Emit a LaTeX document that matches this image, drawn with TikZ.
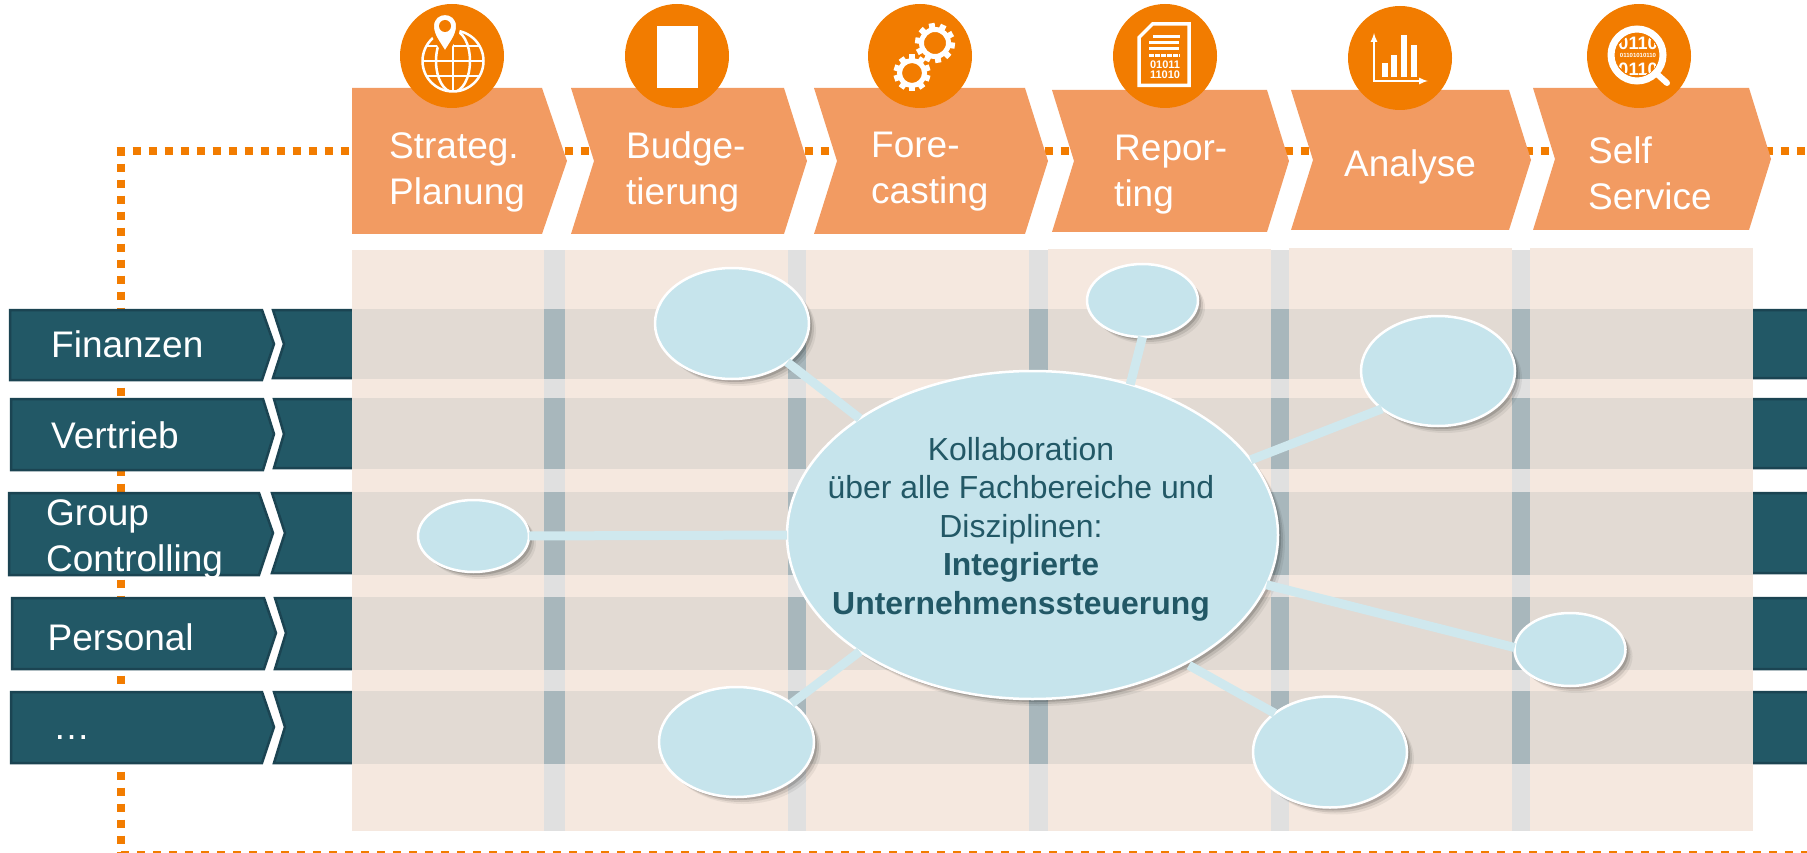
\documentclass[tikz,border=0pt]{standalone}
\usepackage{fontspec}
\setmainfont{Liberation Sans}
\usetikzlibrary{shapes.geometric, shadows}

\definecolor{iconorange}{HTML}{F27C00}
\definecolor{phaseorange}{HTML}{F29B62}
\definecolor{rowteal}{HTML}{225866}
\definecolor{rowedge}{HTML}{1B4452}
\definecolor{columnbeige}{HTML}{F5E8DF}
\definecolor{bandbeige}{HTML}{E2DAD3}
\definecolor{gapgrey}{HTML}{E0E0E0}
\definecolor{gapdark}{HTML}{A8B7BC}
\definecolor{blobblue}{HTML}{C6E4EC}
\definecolor{linkblue}{HTML}{CFE8EE}

\begin{document}
\begin{tikzpicture}[> = latex, x = 1 pt, y = -1 pt,
	dotline/.style = {iconorange, line width = 8, dash pattern = on 8 pt off 8 pt},
	phasebox/.style = {fill = phaseorange},
	rowbox/.style = {fill = rowteal, draw = rowedge, line width = 2.5},
	phaselabel/.style = {anchor = base west, inner sep = 0, align = left, white, font = \fontsize{37}{45}\selectfont},
	rowlabel/.style = {anchor = base west, inner sep = 0, align = left, white, font = \fontsize{37}{45}\selectfont},
	iconcircle/.style = {circle, fill = iconorange, minimum size = 104, inner sep = 0},
	icontext/.style = {anchor = base, inner sep = 0, white, font = \bfseries\fontsize{11}{11}\selectfont},
	blob/.style = {ellipse, fill = blobblue, draw = white, line width = 2.5, inner sep = 0, outer sep = 0,
		drop shadow = {shadow xshift = 7 pt, shadow yshift = -7 pt, opacity = 0.06, fill = black},
		drop shadow = {shadow xshift = 5 pt, shadow yshift = -5 pt, opacity = 0.1, fill = black},
		drop shadow = {shadow xshift = 3 pt, shadow yshift = -3 pt, opacity = 0.15, fill = black}},
	link/.style = {linkblue, line width = 9}]

	\useasboundingbox (0, 0) rectangle (1807, 853);
	\clip (0, 0) rectangle (1807, 853);

	% Dotted frame

	\coordinate (frametop) at (116.7, 151);
	\coordinate (frameright) at (1807, 151);
	\coordinate (frameleft) at (121, 147.7);
	\coordinate (framecorner) at (121, 855);
	\coordinate (frameend) at (1807, 855);

	\draw [dotline] (frametop) -- (frameright);
	\draw [dotline] (frameleft) -- (framecorner);
	\draw [dotline] (framecorner) -- (frameend);

	% Rows

	\draw [rowbox] (10, 310) -- (262, 310) -- (274, 344) -- (262, 380) -- (10, 380) -- cycle;
	\draw [rowbox] (273, 310) -- (1815, 310) -- (1815, 378) -- (273, 378) -- (284, 344) -- cycle;

	\draw [rowbox] (11, 399) -- (263, 399) -- (274, 434) -- (263, 470) -- (11, 470) -- cycle;
	\draw [rowbox] (274, 399) -- (1815, 399) -- (1815, 468) -- (274, 468) -- (284, 434) -- cycle;

	\draw [rowbox] (9, 493) -- (259, 493) -- (273, 533) -- (259, 575) -- (9, 575) -- cycle;
	\draw [rowbox] (272, 493) -- (1815, 493) -- (1815, 573) -- (272, 573) -- (285, 533) -- cycle;

	\draw [rowbox] (12, 598) -- (264, 598) -- (276, 633) -- (264, 669) -- (12, 669) -- cycle;
	\draw [rowbox] (275, 598) -- (1815, 598) -- (1815, 669) -- (275, 669) -- (286, 633) -- cycle;

	\draw [rowbox] (11, 692) -- (262, 692) -- (274, 727) -- (262, 763) -- (11, 763) -- cycle;
	\draw [rowbox] (274, 692) -- (1815, 692) -- (1815, 763) -- (274, 763) -- (285, 727) -- cycle;

	\node [rowlabel] (finanzen) at (51, 357) {Finanzen};
	\node [rowlabel] (vertrieb) at (51, 448) {Vertrieb};
	\node [rowlabel] (group) at (46, 525.5) {Group};
	\node [rowlabel] (controlling) at (46, 571) {Controlling};
	\node [rowlabel] (personal) at (47.5, 650) {Personal};
	\node [rowlabel] (more) at (53, 739) {…};

	% Columns and bands

	\foreach \xa / \xb / \ya in {352/544/250, 565/788/250, 806/1029/250, 1048/1271/249, 1289/1512/248, 1530/1753/248}
		\fill [columnbeige] (\xa, \ya) rectangle (\xb, 831);

	\foreach \xa / \xb in {544/565, 788/806, 1029/1048, 1271/1289, 1512/1530}
		\fill [gapgrey] (\xa, 250) rectangle (\xb, 831);

	\foreach \ya / \yb in {309/379, 398/469, 492/575, 597/670, 691/764} {
		\fill [bandbeige] (352, \ya) rectangle (1753, \yb);
		\foreach \xa / \xb in {544/565, 788/806, 1029/1048, 1271/1289, 1512/1530}
			\fill [gapdark] (\xa, \ya) rectangle (\xb, \yb);
	}

	% Phases

	\fill [phasebox] (352, 88) -- (542, 88) -- (567, 161) -- (542, 234) -- (352, 234) -- cycle;
	\fill [phasebox] (571, 88) -- (784, 88) -- (807, 161) -- (784, 234) -- (571, 234) -- (594, 161) -- cycle;
	\fill [phasebox] (814, 88) -- (1025, 88) -- (1048, 161) -- (1025, 234) -- (814, 234) -- (837, 161) -- cycle;
	\fill [phasebox] (1052, 90) -- (1267, 90) -- (1289, 161) -- (1267, 232) -- (1052, 232) -- (1074, 161) -- cycle;
	\fill [phasebox] (1291, 90) -- (1509, 90) -- (1531, 160) -- (1509, 230) -- (1291, 230) -- (1313, 160) -- cycle;
	\fill [phasebox] (1533, 88) -- (1749, 88) -- (1771, 159) -- (1749, 230) -- (1533, 230) -- (1555, 159) -- cycle;

	\node [phaselabel] (strateg) at (389, 159) {Strateg.};
	\node [phaselabel] (planung) at (389, 204.5) {Planung};
	\node [phaselabel] (budge) at (626, 159) {Budge-};
	\node [phaselabel] (tierung) at (626, 204.5) {tierung};
	\node [phaselabel] (fore) at (871, 158) {Fore-};
	\node [phaselabel] (casting) at (871, 203.5) {casting};
	\node [phaselabel] (repor) at (1114, 161) {Repor-};
	\node [phaselabel] (ting) at (1114, 206.5) {ting};
	\node [phaselabel] (analyse) at (1344, 177) {Analyse};
	\node [phaselabel] (self) at (1588, 164) {Self};
	\node [phaselabel] (service) at (1588, 210) {Service};

	% Icon circles

	\node [iconcircle] (globecircle) at (452, 56) {};
	\node [iconcircle] (pagecircle) at (677, 56) {};
	\node [iconcircle] (gearcircle) at (920, 56) {};
	\node [iconcircle] (reportcircle) at (1165, 56) {};
	\node [iconcircle] (chartcircle) at (1400, 58) {};
	\node [iconcircle] (lenscircle) at (1639, 56) {};

	% Globe with pin

	\begin{scope}[white, line width = 2.5]
		\draw (453, 61) circle (30.5);
		\begin{scope}
			\clip (453, 61) circle (31);
			\draw (453, 61) ellipse (17 and 31);
			\draw (453, 30) -- (453, 92);
			\draw (420, 46) -- (486, 46);
			\draw (420, 61) -- (486, 61);
			\draw (420, 76) -- (486, 76);
		\end{scope}
	\end{scope}

	\draw [iconorange, line width = 4, fill = white] (445, 54) .. controls (438, 42) and (432, 36) .. (432, 26) .. controls (432, 8.7) and (458, 8.7) .. (458, 26) .. controls (458, 36) and (452, 42) .. (445, 54) -- cycle;
	\fill [iconorange] (445, 26) circle (6);

	% Blank page

	\fill [white] (657, 26) rectangle (698, 88);

	% Gears

	\draw [white, line width = 5] (935, 43) circle (13.5);
	\foreach \a in {0, 36, ..., 324}
		\fill [white, shift = {(935, 43)}, rotate = \a + 10] (-3, 14) rectangle (3, 20);

	\draw [white, line width = 5] (912, 73) circle (12.5);
	\foreach \a in {0, 36, ..., 324}
		\fill [white, shift = {(912, 73)}, rotate = \a] (-3, 13) rectangle (3, 18.5);

	% Report sheet

	\draw [white, line width = 3.5] (1139, 37.5) -- (1152.5, 24) -- (1189, 24) -- (1189, 85.5) -- (1139, 85.5) -- cycle;
	\begin{scope}[white, line width = 3]
		\draw (1153, 37) -- (1180, 37);
		\draw (1149, 43) -- (1179, 43);
		\draw (1149, 49) -- (1179, 49);
		\draw [dash pattern = on 4.5 pt off 1.5 pt] (1149, 56) -- (1180, 56);
	\end{scope}
	\node [icontext] (reportbitsa) at (1165, 69) {01011};
	\node [icontext] (reportbitsb) at (1165, 79) {11010};

	% Bar chart

	\draw [<->, white, line width = 2] (1374, 33) -- (1374, 81) -- (1428, 81);
	\fill [white] (1382, 63) rectangle (1388, 77);
	\fill [white] (1391, 55) rectangle (1397, 77);
	\fill [white] (1401, 35) rectangle (1407, 77);
	\fill [white] (1411, 45) rectangle (1417, 77);

	% Magnifier

	\draw [white, line width = 7] (1637, 55) circle (26);
	\draw [white, line width = 6, line cap = round] (1657, 74) -- (1667, 83);
	\begin{scope}
		\clip (1637, 55) circle (21);
		\node [icontext, font = \bfseries\fontsize{18}{18}\selectfont] (lensbitsa) at (1638, 50) {0110};
		\node [icontext, font = \bfseries\fontsize{6}{6}\selectfont] (lensbitsb) at (1638, 58) {01101010110};
		\node [icontext, font = \bfseries\fontsize{18}{18}\selectfont] (lensbitsc) at (1638, 75.5) {0110};
	\end{scope}

	% Collaboration ellipses

	\node [blob, minimum width = 154, minimum height = 111] (blobfinance) at (732, 323.5) {};
	\node [blob, minimum width = 111, minimum height = 73] (blobreport) at (1142.5, 300.5) {};
	\node [blob, minimum width = 154, minimum height = 110] (blobanalyse) at (1438, 371) {};
	\node [blob, minimum width = 111, minimum height = 72] (blobplan) at (473.5, 536) {};
	\node [blob, minimum width = 111, minimum height = 73] (blobself) at (1570, 649.5) {};
	\node [blob, minimum width = 154, minimum height = 111] (blobstaff) at (1330, 752) {};
	\node [blob, minimum width = 155, minimum height = 110] (blobmore) at (736.5, 742) {};
	\node [blob, minimum width = 491, minimum height = 328] (collab) at (1032.5, 535) {};

	\node [anchor = base, inner sep = 0, align = center, rowteal, font = \fontsize{31.9}{38.5}\selectfont] (collabtext) at (1021, 614) {Kollaboration\\über alle Fachbereiche und\\Disziplinen:\\\textbf{Integrierte}\\\textbf{Unternehmenssteuerung}};

	% Links

	\draw [link] (blobfinance.-35.7) -- (collab.146.3);
	\draw [link] (blobreport.-90) -- (collab.57);
	\draw [link] (blobanalyse.214.2) -- (collab.19.3);
	\draw [link] (blobplan.0) -- (collab.180);
	\draw [link] (blobmore.35.1) -- (collab.214.5);
	\draw [link] (blobself.178.5) -- (collab.-12);
	\draw [link, shorten > = 4 pt] (blobstaff.145.1) -- (collab.-40.3);

\end{tikzpicture}
\end{document}
